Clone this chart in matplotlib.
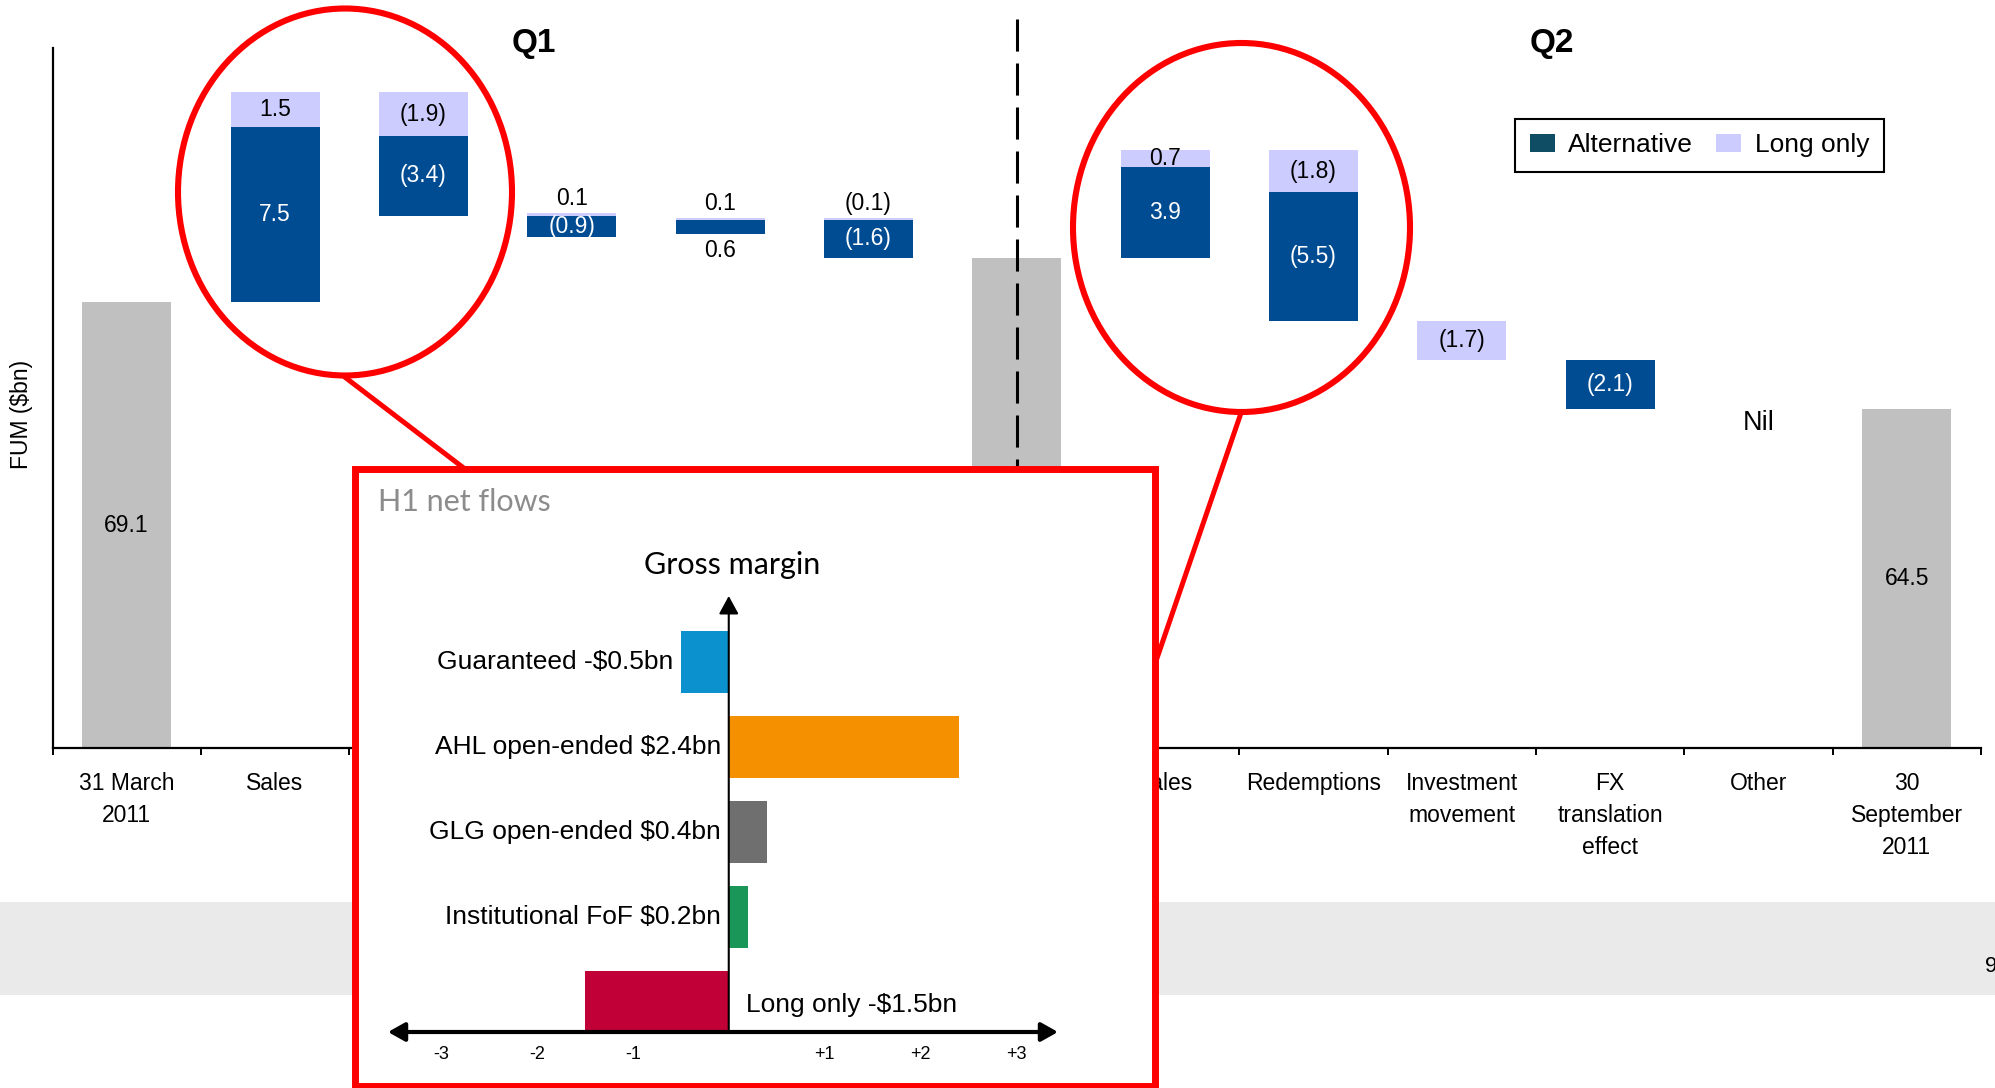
import numpy as np
import matplotlib.pyplot as plt
from matplotlib.patches import Rectangle, Ellipse, Patch, FancyArrowPatch
from matplotlib.lines import Line2D

plt.rcParams['font.family'] = ['Liberation Sans', 'DejaVu Sans']

# FUM bridge ($bn), Q1 and Q2
categories = ["31 March\n2011", "Sales", "Redemptions", "Investment\nmovement",
              "FX\ntranslation\neffect", "Other", "30 June\n2011",
              "Sales", "Redemptions", "Investment\nmovement",
              "FX\ntranslation\neffect", "Other", "30\nSeptember\n2011"]
opening_fum = 69.1
# None marks a closing-balance column
alternative = [None, 7.5, -3.4, -0.9, 0.6, -1.6, None, 3.9, -5.5, 0.0, -2.1, 0.0, None]
long_only = [None, 1.5, -1.9, 0.1, 0.1, -0.1, None, 0.7, -1.8, -1.7, 0.0, 0.0, None]

# H1 net flows by product
flow_labels = ["Guaranteed -$0.5bn", "AHL open-ended $2.4bn", "GLG open-ended $0.4bn",
               "Institutional FoF $0.2bn", "Long only -$1.5bn"]
flow_values = [-0.5, 2.4, 0.4, 0.2, -1.5]
flow_ticks = [-3, -2, -1, 1, 2, 3]

GREY = '#C0C0C0'
ALT = '#004C93'
LONG = '#CCCCFF'
RED = '#FF0000'
flow_colors = ['#0B91CE', '#F59100', '#6F6F6F', '#1B9659', '#C00037']

# label placement for the thin segments: (column, series) -> where
label_pos = {(3, 'long'): 'above', (4, 'long'): 'above', (4, 'alt'): 'below',
             (5, 'long'): 'above'}
# x labels that sit under the inset panel
covered_ticks = [2, 3, 4, 5, 6]

W, H = 1995, 1088
fig = plt.figure(figsize=(W / 100, H / 100), dpi=100)


def fx(x):
    return x / W


def fy(y):
    return 1 - y / H


# grey footer band
fig.add_artist(Rectangle((0, fy(995)), 1, (995 - 902) / H, transform=fig.transFigure,
                         facecolor='#EAEAEA', edgecolor='none', zorder=0.5))
fig.text(fx(1985), fy(967), "9", fontsize=16, ha='left', va='center')

ax = fig.add_axes([fx(52.5), fy(748), (1981 - 52.5) / W, (748 - 47.5) / H])
ax.patch.set_alpha(0)
y0 = 50
ax.set_xlim(-0.5, len(categories) - 0.5)
ax.set_ylim(y0, 80.0)


def seg_label(x, lo, hi, value, series, color):
    txt = f"{value:.1f}" if value > 0 else f"({abs(value):.1f})"
    where = label_pos.get((x, series), 'in')
    if where == 'above':
        ax.annotate(txt, (x, hi), xytext=(0, 6), textcoords='offset points',
                    ha='center', va='baseline', fontsize=16.5, color='black')
    elif where == 'below':
        ax.annotate(txt, (x, lo), xytext=(0, -3.5), textcoords='offset points',
                    ha='center', va='top', fontsize=16.5, color='black')
    else:
        ax.text(x, (lo + hi) / 2, txt, ha='center', va='center', fontsize=16.5,
                color='white' if series == 'alt' else 'black', zorder=4)


level = opening_fum
for i, (a, l) in enumerate(zip(alternative, long_only)):
    if a is None:
        ax.bar(i, level, width=0.6, color=GREY, zorder=2)
        ax.text(i, (y0 + level) / 2, f"{level:.1f}", ha='center', va='center', fontsize=16.5)
        continue
    if a == 0 and l == 0:
        ax.annotate("Nil", (i, level), xytext=(0, -10), textcoords='offset points',
                    ha='center', va='center', fontsize=19.5)
        continue
    up = down = level
    # gains stack upward alternative first, losses stack downward long only first
    for v, s, c in [(a, 'alt', ALT), (l, 'long', LONG)]:
        if v > 0:
            ax.bar(i, v, bottom=up, width=0.6, color=c, zorder=2)
            seg_label(i, up, up + v, v, s, c)
            up += v
    for v, s, c in [(l, 'long', LONG), (a, 'alt', ALT)]:
        if v < 0:
            ax.bar(i, v, bottom=down, width=0.6, color=c, zorder=2)
            seg_label(i, down + v, down, v, s, c)
            down += v
    level += a + l

# quarter divider
ax.plot([6, 6], [81.2, y0], color='black', lw=2.2, dashes=(10.5, 3.9),
        clip_on=False, zorder=3)

for side in ['top', 'right']:
    ax.spines[side].set_visible(False)
for side in ['left', 'bottom']:
    ax.spines[side].set_linewidth(1.6)
ax.set_yticks([])
ax.set_xticks(range(len(categories)))
tick_text = ['' if k in covered_ticks else c for k, c in enumerate(categories)]
ax.set_xticklabels(tick_text, fontsize=16.5, linespacing=1.5)
ax.set_xticks(np.arange(-0.5, len(categories), 1), minor=True)
ax.tick_params(axis='x', which='major', length=0, pad=17)
ax.tick_params(axis='x', which='minor', length=5, width=1.4, direction='out')

fig.text(fx(21.7), fy(414), "FUM ($bn)", rotation=90, ha='center', va='center', fontsize=16.5)
fig.text(fx(534), fy(43.5), "Q1", fontsize=24, fontweight='bold', ha='center', va='center')
fig.text(fx(1552), fy(43.5), "Q2", fontsize=24, fontweight='bold', ha='center', va='center')

leg = ax.legend(handles=[Patch(facecolor='#0E4D64'), Patch(facecolor=LONG)],
                labels=["Alternative", "Long only"], ncol=2, loc='upper left',
                bbox_to_anchor=(fx(1515), fy(118.5)), bbox_transform=fig.transFigure,
                fontsize=19, fancybox=False, edgecolor='black', framealpha=1,
                handlelength=0.95, handleheight=0.7, handletextpad=0.5,
                columnspacing=0.9, borderpad=0.55, borderaxespad=0)
leg.get_frame().set_linewidth(1.5)

# magnifier circles and their pointers
for cx, cy, ew, eh in [(345, 192, 334, 367), (1241.5, 227.5, 337, 369)]:
    fig.add_artist(Ellipse((fx(cx), fy(cy)), ew / W, eh / H, transform=fig.transFigure,
                           fill=False, edgecolor=RED, lw=4.4, zorder=3))
for (x1, y1), (x2, y2) in [((346, 378), (465, 469)), ((1241, 413), (1155, 664))]:
    fig.add_artist(Line2D([fx(x1), fx(x2)], [fy(y1), fy(y2)], transform=fig.transFigure,
                          color=RED, lw=3.6, zorder=3))

fig.add_artist(Rectangle((fx(355), fy(1086)), 800 / W, (1086 - 469) / H,
                         transform=fig.transFigure, facecolor='white', edgecolor=RED,
                         lw=5, zorder=4))
fig.text(fx(377.5), fy(502), "H1 net flows", fontsize=22, color='#8C8C8C',
         family=['Lato', 'DejaVu Sans'], ha='left', va='center', zorder=6)
fig.text(fx(732), fy(565), "Gross margin", fontsize=22, color='black',
         family=['Lato', 'DejaVu Sans'], ha='center', va='center', zorder=6)

# inset bar chart
ax_in = fig.add_axes([fx(388), fy(1032), (1058 - 388) / W, (1032 - 596) / H], zorder=5)
ax_in.set_axis_off()
ax_in.set_xlim(-3.55, 3.43)
ybot, ytop = 4.353, -0.776
ax_in.set_ylim(ybot, ytop)
rows = np.arange(len(flow_values))
ax_in.barh(rows, flow_values, height=0.72, color=flow_colors, zorder=2)
for r, (lab, v) in enumerate(zip(flow_labels, flow_values)):
    if r == len(flow_values) - 1:
        ax_in.text(0.18, r + 0.03, lab, ha='left', va='center', fontsize=19)
    else:
        ax_in.text(min(v, 0) - 0.08, r, lab, ha='right', va='center', fontsize=19)

ax_in.add_patch(FancyArrowPatch((0, ybot), (0, ytop),
                                arrowstyle='-|>,head_length=0.55,head_width=0.3',
                                mutation_scale=20, lw=1.5, color='black',
                                shrinkA=0, shrinkB=0, clip_on=False, zorder=3))
ax_in.add_patch(FancyArrowPatch((-3.55, ybot), (3.43, ybot),
                                arrowstyle='<|-|>,head_length=0.5,head_width=0.28',
                                mutation_scale=20, lw=3, color='black',
                                shrinkA=0, shrinkB=0, clip_on=False, zorder=3))
for t in flow_ticks:
    ax_in.annotate(f"{t:+d}", (t, ybot), xytext=(0, -16), textcoords='offset points',
                   ha='center', va='center', fontsize=13)

fig.savefig('out.png', dpi=100)
